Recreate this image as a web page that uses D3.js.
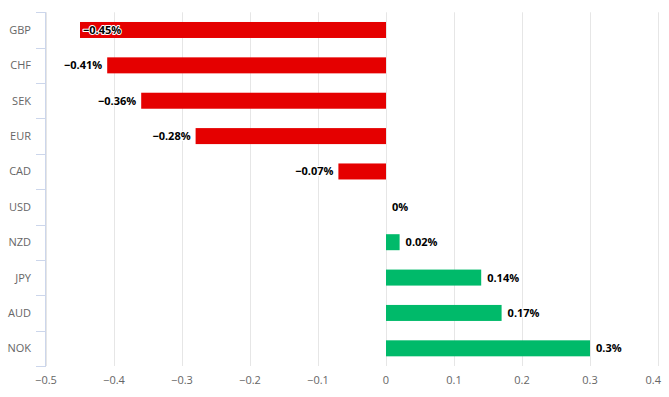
<!DOCTYPE html>
<html>
<head>
<meta charset="utf-8">
<script src="https://cdn.jsdelivr.net/npm/d3@7"></script>
<style>
  body { margin: 0; background: #fff; }
  svg { display: block; font-family: "Open Sans", "Noto Sans", sans-serif; }
  .etiqueta { font-size: 11px; font-weight: bold; fill: #000; stroke: #fff; stroke-width: 2px; paint-order: stroke; stroke-linejoin: round; }
</style>
</head>
<body>
<svg id="grafica" width="669" height="397"></svg>
<script>
const monedas  = ["GBP", "CHF", "SEK", "EUR", "CAD", "USD", "NZD", "JPY", "AUD", "NOK"];
const cambios  = [-0.45, -0.41, -0.36, -0.28, -0.07, 0, 0.02, 0.14, 0.17, 0.3];
const ticksX   = [-0.5, -0.4, -0.3, -0.2, -0.1, 0, 0.1, 0.2, 0.3, 0.4];

const svg = d3.select('#grafica');
const margen = { top: 12.3, left: 46, right: 11, bottom: 31 };
const ancho = 669, alto = 397;

const x = d3.scaleLinear().domain([-0.5, 0.4]).range([margen.left, ancho - margen.right]);
const y = d3.scaleBand().domain(monedas).range([margen.top, alto - margen.bottom]).paddingInner(0).paddingOuter(0);

const fmt = v => (v < 0 ? '\u2212' : '') + String(Math.abs(v));

// rejilla vertical
svg.append('g').selectAll('line')
  .data(ticksX)
  .join('line')
  .attr('x1', d => Math.round(x(d)) + 0.5)
  .attr('x2', d => Math.round(x(d)) + 0.5)
  .attr('y1', margen.top)
  .attr('y2', alto - margen.bottom)
  .attr('stroke', '#e6e6e6');

// etiquetas eje x
svg.append('g').selectAll('text')
  .data(ticksX)
  .join('text')
  .attr('x', (d, i) => i === ticksX.length - 1 ? 661 : x(d))
  .attr('y', 384)
  .attr('text-anchor', (d, i) => i === ticksX.length - 1 ? 'end' : 'middle')
  .attr('fill', '#666')
  .attr('font-size', 11)
  .text(fmt);

// eje y
const ejeY = svg.append('g').attr('stroke', '#ccd6eb');
ejeY.append('line')
  .attr('x1', margen.left - 0.5).attr('x2', margen.left - 0.5)
  .attr('y1', margen.top).attr('y2', alto - margen.bottom);
ejeY.selectAll('line.tick')
  .data(monedas.concat(['fin']))
  .join('line')
  .attr('class', 'tick')
  .attr('x1', margen.left - 10).attr('x2', margen.left)
  .attr('y1', (d, i) => Math.round(margen.top + i * y.bandwidth()) + 0.5)
  .attr('y2', (d, i) => Math.round(margen.top + i * y.bandwidth()) + 0.5);

svg.append('g').selectAll('text')
  .data(monedas)
  .join('text')
  .attr('x', 31)
  .attr('y', d => y(d) + y.bandwidth() / 2 + 4)
  .attr('text-anchor', 'end')
  .attr('fill', '#666')
  .attr('font-size', 11)
  .text(d => d);

// barras
const altoBarra = 16;
svg.append('g').selectAll('rect')
  .data(monedas)
  .join('rect')
  .attr('x', (d, i) => x(Math.min(0, cambios[i])))
  .attr('width', (d, i) => Math.abs(x(cambios[i]) - x(0)))
  .attr('y', d => y(d) + y.bandwidth() / 2 - altoBarra / 2)
  .attr('height', altoBarra)
  .attr('fill', (d, i) => cambios[i] < 0 ? '#e50000' : '#00ba6a');

// etiquetas de datos
svg.append('g').selectAll('text')
  .data(monedas)
  .join('text')
  .attr('class', 'etiqueta')
  .attr('y', d => y(d) + y.bandwidth() / 2 + 4)
  .attr('x', (d, i) => {
    const v = cambios[i];
    if (v < 0) return x(v) < 100 ? x(v) + 3 : x(v) - 5;
    return x(v) + 6;
  })
  .attr('text-anchor', (d, i) => {
    const v = cambios[i];
    if (v < 0) return x(v) < 100 ? 'start' : 'end';
    return 'start';
  })
  .text((d, i) => fmt(cambios[i]) + '%');
</script>
</body>
</html>
